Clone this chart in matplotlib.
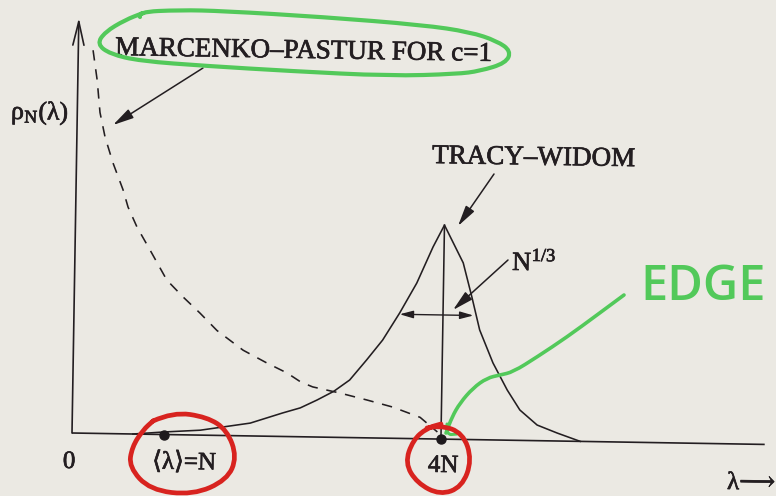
import numpy as np
import matplotlib
matplotlib.use("Agg")
import matplotlib.pyplot as plt
import matplotlib.transforms as mtransforms
import matplotlib.patheffects as pe
from matplotlib.path import Path
from matplotlib.patches import PathPatch

# ---- spectral densities (lambda in units of N) ----
# Marcenko-Pastur density for c = 1 (dashed)
mp_lambda = [0.16, 0.21, 0.246, 0.305, 0.396, 0.51, 0.567, 0.668, 0.813, 1.00,
             1.18, 1.366, 1.553, 1.84, 2.10, 2.32, 2.47, 2.60, 2.90, 3.19,
             3.47, 3.77, 3.96]
mp_rho = [1.79, 1.65, 1.50, 1.386, 1.265, 1.14, 1.06, 0.967, 0.861, 0.722,
          0.644, 0.57, 0.49, 0.40, 0.342, 0.297, 0.256, 0.234, 0.207, 0.177,
          0.146, 0.10, 0.033]

# Tracy-Widom distribution of the largest eigenvalue (solid)
tw_lambda = [0.66, 1.00, 1.39, 1.93, 2.28, 2.47, 2.65, 2.83, 3.00, 3.18, 3.35,
             3.53, 3.71, 3.88, 4.00, 4.21, 4.31, 4.40, 4.55, 4.71, 4.85, 5.04,
             5.26, 5.51]
tw_rho = [0.0, 0.012, 0.023, 0.06, 0.11, 0.135, 0.173, 0.215, 0.269, 0.364,
          0.458, 0.586, 0.727, 0.897, 1.0, 0.825, 0.666, 0.513, 0.36, 0.234,
          0.142, 0.073, 0.037, 0.0]

# marked points on the lambda axis: <lambda> = N and the edge 4N
mark_lambda = [1.0, 4.0]
mark_labels = ["\u27e8\u03bb\u27e9=N", "4N"]

# width of the edge peak (N^{1/3})
width_left, width_right, width_level = 3.53, 4.33, 0.58

x_axis_end = 7.51
y_axis_top = 1.94

# ---- figure ----
W, H = 776, 496
paper = "#ebe9e3"
ink = "#231e21"
green = "#52c95a"
red = "#d8231f"

plt.rcParams["mathtext.fontset"] = "stix"

fig = plt.figure(figsize=(W / 100, H / 100), dpi=100)
fig.patch.set_facecolor(paper)

ax = fig.add_axes([0, 0, 1, 1])
ax.set_facecolor(paper)
x0_px, base_px = 72, 433          # origin of the axes on the page
sx, sy = 92.25, 214.0             # pixels per unit of lambda / rho
ax.set_xlim(-x0_px / sx, (W - x0_px) / sx)
ax.set_ylim(-(H - base_px) / sy, base_px / sy)
ax.axis("off")

# the printed page sits slightly askew
tilt = mtransforms.Affine2D().rotate_deg_around(x0_px, H - base_px, -0.945)
tr = ax.transData + tilt

ax.plot([0, x_axis_end], [0, 0], color=ink, lw=1.2, transform=tr,
        solid_capstyle="butt")
ax.annotate("", xy=(0, y_axis_top), xytext=(0, 0), xycoords=tr, textcoords=tr,
            arrowprops=dict(arrowstyle="->,head_length=0.85,head_width=0.2",
                            mutation_scale=20, lw=1.2, color=ink,
                            shrinkA=0, shrinkB=0))

ax.plot(mp_lambda, mp_rho, color=ink, lw=1.15, ls=(0, (6.5, 5.5)), transform=tr)
ax.plot(tw_lambda, tw_rho, color=ink, lw=1.15, transform=tr,
        solid_joinstyle="round")
ax.plot([4, 4], [0, max(tw_rho)], color=ink, lw=1.15, transform=tr)
ax.plot(mark_lambda, [0, 0], "o", ms=6.5, color="#1e1a1d", transform=tr,
        zorder=5)

ax.annotate("", xy=(width_left, width_level), xytext=(width_right, width_level),
            xycoords=tr, textcoords=tr,
            arrowprops=dict(arrowstyle="<|-|>,head_length=0.9,head_width=0.25",
                            mutation_scale=9, lw=1.0, color=ink,
                            shrinkA=0, shrinkB=0))

# ---- page layer in pixel units: labels, pointers and pen marks ----
ink_ax = fig.add_axes([0, 0, 1, 1])
ink_ax.set_xlim(0, W)
ink_ax.set_ylim(H, 0)
ink_ax.axis("off")
ink_ax.patch.set_alpha(0)

serif = ["Liberation Serif", "DejaVu Serif", "DejaVu Sans"]
rot = -0.9
printed = [pe.withStroke(linewidth=0.5, foreground=ink)]

def label(x, y, s, size, **kw):
    ink_ax.text(x, y, s, fontsize=size, family=serif, color=ink, va="baseline",
                rotation=rot, rotation_mode="anchor", path_effects=printed, **kw)

label(115, 55, "MARCENKO\u2013PASTUR FOR c=1", 19.5)
label(432, 163, "TRACY\u2013WIDOM", 19.5)
label(512, 270, r"N$^{\mathregular{1/3}}$", 19)
label(11, 119, "\u03c1$_{\\mathregular{N}}$(\u03bb)", 18.5)
label(69, 468, "0", 18, ha="center")
label(184, 469, mark_labels[0], 18, ha="center")
label(443, 472, mark_labels[1], 18, ha="center")
label(727, 489, "\u03bb\u27f6", 18)

def pointer(tail, tip):
    ink_ax.annotate("", xy=tip, xytext=tail,
                    arrowprops=dict(arrowstyle="-|>,head_length=0.9,head_width=0.22",
                                    mutation_scale=14, lw=1.1, color=ink,
                                    shrinkA=0, shrinkB=0))

pointer((203, 68), (113, 125))
pointer((494, 174), (458, 226))
pointer((508, 260), (453, 310))

def pen(pts, color, lw):
    pts = np.asarray(pts, float)
    verts, codes = [pts[0]], [Path.MOVETO]
    for i in range(1, len(pts) - 1):
        verts += [pts[i], (pts[i] + pts[i + 1]) / 2]
        codes += [Path.CURVE3, Path.CURVE3]
    verts.append(pts[-1])
    codes.append(Path.LINETO)
    ink_ax.add_patch(PathPatch(Path(verts, codes), fill=False, ec=color, lw=lw,
                               capstyle="round", joinstyle="round", zorder=6))

green_loop = [(140, 17), (137, 12), (180, 10), (223, 11), (323, 17), (423, 25),
              (470, 32), (497, 41), (511, 51), (506, 63), (480, 71), (457, 74),
              (390, 76), (290, 71), (207, 66), (140, 61), (110, 54), (97, 44),
              (105, 32), (125, 20), (143, 13)]
pen(green_loop, green, 3.0)

edge_stroke = [(624, 295), (597, 315), (567, 337), (537, 357), (513, 372),
               (500, 375), (487, 378), (473, 388), (460, 403), (452, 417),
               (446, 433)]
pen(edge_stroke, green, 2.6)
pen([(447, 424), (446, 435), (457, 434)], green, 2.2)

ring_mean = [(153, 421), (173, 412), (207, 417), (227, 430), (237, 457),
             (227, 480), (193, 495), (150, 490), (129, 467), (132, 447),
             (143, 430), (153, 421)]
pen(ring_mean, red, 3.4)

ring_edge = [(427, 428), (440, 425), (463, 433), (472, 460), (462, 487),
             (440, 495), (417, 483), (405, 463), (413, 440), (427, 428),
             (441, 424)]
pen(ring_edge, red, 3.4)

ink_ax.text(640, 300, "EDGE", fontsize=35, family="Open Sans", weight="semibold",
            color=green, va="baseline")

fig.savefig("out.png", dpi=100, facecolor=paper)
